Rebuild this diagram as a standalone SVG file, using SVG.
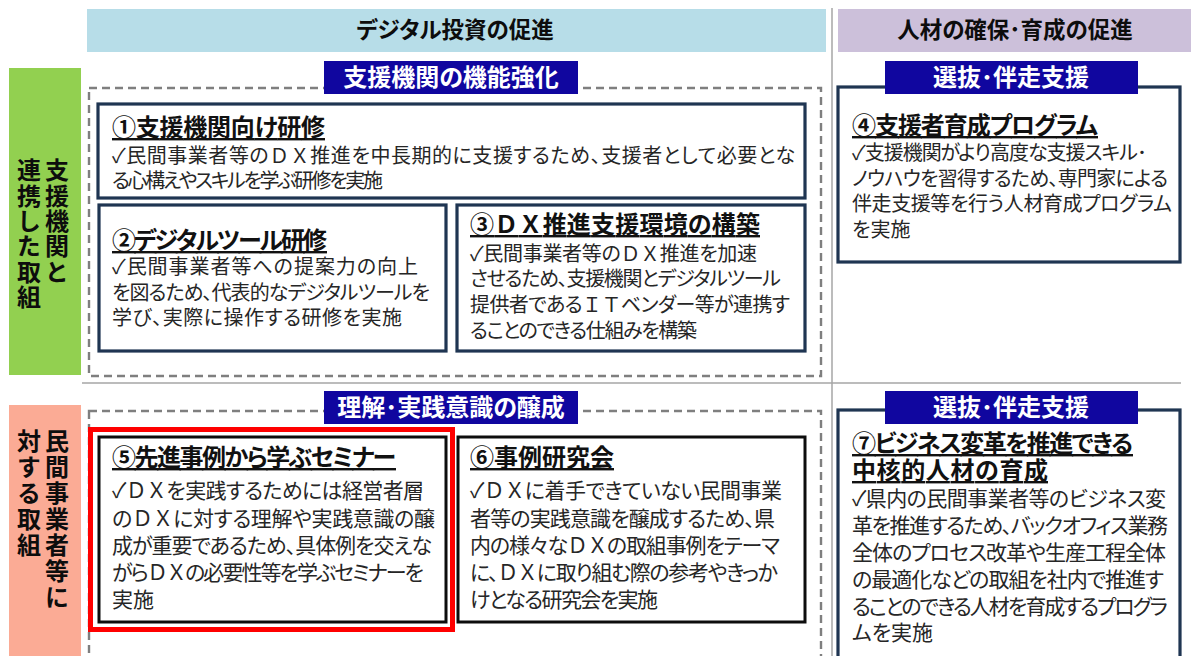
<svg xmlns="http://www.w3.org/2000/svg" width="1191" height="656" viewBox="0 0 1191 656">
<style>
text { font-family: "Noto Sans CJK JP", "Noto Sans", sans-serif; font-feature-settings: "palt"; }
.fw { font-feature-settings: normal; }
.hdr { font-size: 22.5px; font-weight: 700; fill: #0d0d0d; text-anchor: middle; }
.lbl { font-size: 24px; font-weight: 700; fill: #ffffff; text-anchor: middle; }
.side { font-size: 24px; font-weight: 700; fill: #0d0d0d; writing-mode: vertical-rl; font-feature-settings: normal; }
.title { font-size: 24px; font-weight: 700; fill: #111111; text-decoration: underline; }
.body { font-size: 20px; fill: #262626; }
.body2 { font-size: 21px; fill: #262626; }
.box { fill: #ffffff; stroke: #1f3552; stroke-width: 3.2; }
.boxk { fill: #ffffff; stroke: #0d0d0d; stroke-width: 3; }
.dash { fill: none; stroke: #7f7f7f; stroke-width: 2.4; stroke-dasharray: 8 5; }
.navy { fill: #10069f; }
.sep { stroke: #a6a6a6; stroke-width: 1.5; fill: none; }
</style>

<g id="backdrop">
  <rect x="87" y="9" width="739" height="43" fill="#b7dde8"/>
  <rect x="838" y="9" width="353" height="43" fill="#ccc0da"/>
  <line class="sep" x1="832" y1="8" x2="832" y2="656"/>
  <line class="sep" x1="82" y1="383" x2="1181" y2="383"/>
  <rect class="dash" x="89" y="88" width="732" height="288"/>
  <rect class="dash" x="89" y="411" width="732" height="260"/>
</g>

<g id="header-digital">
  <text class="hdr" x="455" y="38">デジタル投資の促進</text>
</g>
<g id="header-jinzai">
  <text class="hdr" x="1015" y="38">人材の確保･育成の促進</text>
</g>

<g id="side-shien">
  <rect x="9" y="68" width="72" height="307" fill="#92d050"/>
  <text class="side" x="57" y="158" letter-spacing="1.4">支援機関と</text>
  <text class="side" x="29" y="158" letter-spacing="1.4">連携した取組</text>
</g>

<g id="side-minkan">
  <rect x="9" y="405" width="72" height="251" fill="#fbab95"/>
  <text class="side" x="57" y="429" letter-spacing="2">民間事業者等に</text>
  <text class="side" x="29" y="429" letter-spacing="2">対する取組</text>
</g>

<g id="label-kinou">
  <rect class="navy" x="324" y="61" width="254" height="33"/>
  <text class="lbl" x="451" y="86">支援機関の機能強化</text>
</g>
<g id="label-rikai">
  <rect class="navy" x="324" y="391" width="254" height="33"/>
  <text class="lbl" x="451" y="416">理解･実践意識の醸成</text>
</g>

<g id="node1">
  <rect class="box" x="98" y="104" width="707" height="94"/>
  <text class="title" x="112" y="136" textLength="213" lengthAdjust="spacing">①支援機関向け研修</text>
  <text class="body" x="112" y="163" textLength="683" lengthAdjust="spacing">✓民間事業者等の<tspan class="fw">ＤＸ</tspan>推進を中長期的に支援するため、支援者として必要とな</text>
  <text class="body" x="112" y="188" textLength="271" lengthAdjust="spacing">る心構えやスキルを学ぶ研修を実施</text>
</g>

<g id="node2">
  <rect class="box" x="99" y="205" width="347" height="146"/>
  <text class="title" x="112" y="249" textLength="215" lengthAdjust="spacing">②デジタルツール研修</text>
  <text class="body" x="112" y="274" textLength="306" lengthAdjust="spacing">✓民間事業者等への提案力の向上</text>
  <text class="body" x="112" y="300" textLength="318" lengthAdjust="spacing">を図るため、代表的なデジタルツールを</text>
  <text class="body" x="112" y="325" textLength="290" lengthAdjust="spacing">学び、実際に操作する研修を実施</text>
</g>

<g id="node3">
  <rect class="box" x="457" y="205" width="348" height="146"/>
  <text class="title" x="470" y="233" textLength="290" lengthAdjust="spacing">③<tspan class="fw">ＤＸ</tspan>推進支援環境の構築</text>
  <text class="body" x="470" y="261" textLength="287" lengthAdjust="spacing">✓民間事業者等の<tspan class="fw">ＤＸ</tspan>推進を加速</text>
  <text class="body" x="470" y="286" textLength="311" lengthAdjust="spacing">させるため、支援機関とデジタルツール</text>
  <text class="body" x="470" y="312" textLength="320" lengthAdjust="spacing">提供者である<tspan class="fw">ＩＴ</tspan>ベンダー等が連携す</text>
  <text class="body" x="470" y="338" textLength="227" lengthAdjust="spacing">ることのできる仕組みを構築</text>
</g>

<g id="node4">
  <rect class="box" x="838" y="87" width="342" height="175"/>
  <rect class="navy" x="885" y="61" width="253" height="33"/>
  <text class="lbl" x="1011" y="86">選抜･伴走支援</text>
  <text class="title" x="852" y="134" textLength="246" lengthAdjust="spacing">④支援者育成プログラム</text>
  <text class="body" x="852" y="160" textLength="295" lengthAdjust="spacing">✓支援機関がより高度な支援スキル･</text>
  <text class="body" x="852" y="186" textLength="316" lengthAdjust="spacing">ノウハウを習得するため、専門家による</text>
  <text class="body" x="852" y="211" textLength="320" lengthAdjust="spacing">伴走支援等を行う人材育成プログラム</text>
  <text class="body" x="852" y="237">を実施</text>
</g>

<g id="node5">
  <rect x="90.5" y="429.5" width="362" height="200" fill="none" stroke="#ff0000" stroke-width="5"/>
  <rect class="boxk" x="99" y="437" width="347" height="185"/>
  <text class="title" x="112" y="466" textLength="284" lengthAdjust="spacing">⑤先進事例から学ぶセミナー</text>
  <text class="body2" x="112" y="498" textLength="312" lengthAdjust="spacing">✓<tspan class="fw">ＤＸ</tspan>を実践するためには経営者層</text>
  <text class="body2" x="112" y="526" textLength="323" lengthAdjust="spacing">の<tspan class="fw">ＤＸ</tspan>に対する理解や実践意識の醸</text>
  <text class="body2" x="112" y="553" textLength="320" lengthAdjust="spacing">成が重要であるため、具体例を交えな</text>
  <text class="body2" x="112" y="580" textLength="312" lengthAdjust="spacing">がら<tspan class="fw">ＤＸ</tspan>の必要性等を学ぶセミナーを</text>
  <text class="body2" x="112" y="607">実施</text>
</g>

<g id="node6">
  <rect class="boxk" x="458" y="437" width="347" height="185"/>
  <text class="title" x="470" y="466" textLength="144" lengthAdjust="spacing">⑥事例研究会</text>
  <text class="body2" x="470" y="498" textLength="312" lengthAdjust="spacing">✓<tspan class="fw">ＤＸ</tspan>に着手できていない民間事業</text>
  <text class="body2" x="470" y="526" textLength="305" lengthAdjust="spacing">者等の実践意識を醸成するため、県</text>
  <text class="body2" x="470" y="553" textLength="310" lengthAdjust="spacing">内の様々な<tspan class="fw">ＤＸ</tspan>の取組事例をテーマ</text>
  <text class="body2" x="470" y="580" textLength="308" lengthAdjust="spacing">に、<tspan class="fw">ＤＸ</tspan>に取り組む際の参考やきっか</text>
  <text class="body2" x="470" y="607" textLength="188" lengthAdjust="spacing">けとなる研究会を実施</text>
</g>

<g id="node7">
  <rect class="box" x="838" y="410" width="342" height="260"/>
  <rect class="navy" x="885" y="391" width="253" height="33"/>
  <text class="lbl" x="1011" y="416">選抜･伴走支援</text>
  <text class="title" x="852" y="452" textLength="281" lengthAdjust="spacing">⑦ビジネス変革を推進できる</text>
  <text class="title" x="852" y="479" textLength="196" lengthAdjust="spacing">中核的人材の育成</text>
  <text class="body2" x="852" y="506" textLength="314" lengthAdjust="spacing">✓県内の民間事業者等のビジネス変</text>
  <text class="body2" x="852" y="533" textLength="316" lengthAdjust="spacing">革を推進するため、バックオフィス業務</text>
  <text class="body2" x="852" y="560" textLength="314" lengthAdjust="spacing">全体のプロセス改革や生産工程全体</text>
  <text class="body2" x="852" y="587" textLength="312" lengthAdjust="spacing">の最適化などの取組を社内で推進す</text>
  <text class="body2" x="852" y="614" textLength="316" lengthAdjust="spacing">ることのできる人材を育成するプログラ</text>
  <text class="body2" x="852" y="640">ムを実施</text>
</g>

<g id="connectors"></g>
</svg>
